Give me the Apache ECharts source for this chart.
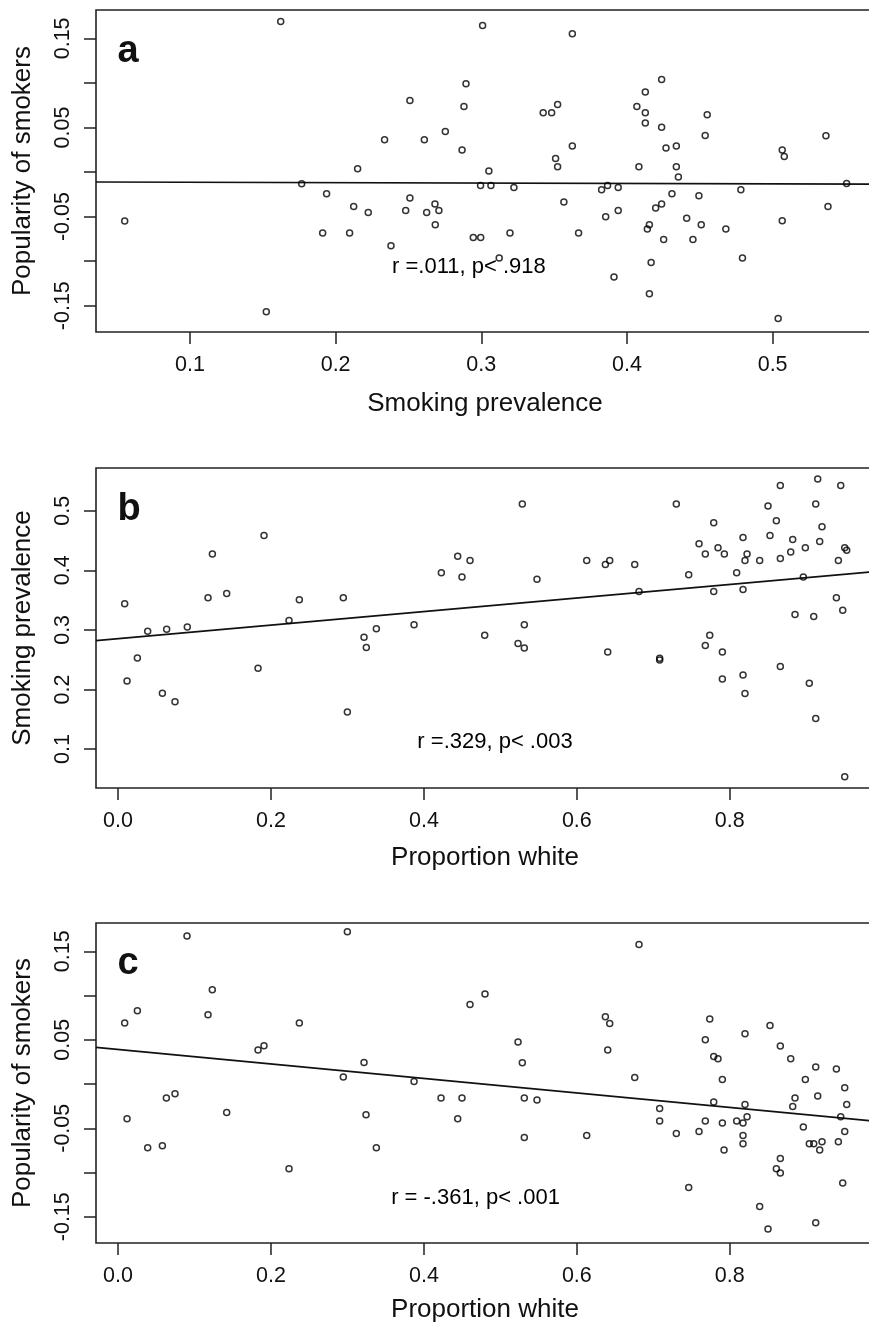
<!DOCTYPE html>
<html><head><meta charset="utf-8">
<script src="https://cdn.jsdelivr.net/npm/echarts@6/dist/echarts.min.js"></script>
<style>html,body{margin:0;padding:0;background:#fff;overflow:hidden}#c{width:869px;height:1332px}</style>
</head><body><div id="c"></div>
<script>
// ---------- data ----------
// Panel a: x = smoking prevalence, y = popularity of smokers
const panelA = [
[0.1623,0.169],[0.2895,0.0991],[0.2510,0.0803],[0.2881,0.0736],[0.2753,0.0456],[0.2336,0.0362],
[0.2609,0.0362],[0.2868,0.0247],[0.2151,0.0037],[0.1767,-0.0131],[0.1938,-0.0243],[0.2510,-0.0292],
[0.2124,-0.0386],[0.2224,-0.0453],[0.2481,-0.0431],[0.2625,-0.0453],[0.2682,-0.0359],[0.2709,-0.0431],
[0.2684,-0.0591],[0.0552,-0.0550],[0.1911,-0.0684],[0.2096,-0.0684],[0.2380,-0.0827],[0.2945,-0.0734],
[0.2996,-0.0734],[0.1524,-0.1567],
[0.3009,0.1645],[0.3625,0.1552],[0.4238,0.1039],[0.4126,0.0898],[0.3524,0.0759],[0.3425,0.0665],
[0.3483,0.0665],[0.4068,0.0736],[0.4126,0.0665],[0.4126,0.0549],[0.4551,0.0643],[0.4238,0.0501],
[0.4537,0.0411],[0.5366,0.0407],[0.3625,0.0292],[0.4268,0.0269],[0.4339,0.0292],[0.5066,0.0247],
[0.5080,0.0175],[0.3510,0.0153],[0.3524,0.0059],[0.4082,0.0059],[0.4339,0.0059],[0.4353,-0.0056],
[0.3052,0.0011],[0.2995,-0.0150],[0.3066,-0.0150],[0.3224,-0.0173],[0.3826,-0.0199],[0.3867,-0.0150],
[0.3940,-0.0173],[0.4782,-0.0199],[0.5508,-0.0128],[0.4309,-0.0243],[0.4494,-0.0266],[0.3567,-0.0337],
[0.4238,-0.0359],[0.4197,-0.0404],[0.3940,-0.0431],[0.3854,-0.0502],[0.4410,-0.0520],[0.5380,-0.0386],
[0.5066,-0.0546],[0.4154,-0.0591],[0.4140,-0.0640],[0.4510,-0.0591],[0.4679,-0.0640],[0.3197,-0.0684],
[0.3668,-0.0684],[0.4252,-0.0756],[0.4453,-0.0756],[0.3123,-0.0965],[0.4166,-0.1014],[0.4793,-0.0965],
[0.3911,-0.1178],[0.4154,-0.1365],[0.5038,-0.1643]
];
// Panel b: x = proportion white, y = smoking prevalence
const panelB = [
[0.1909,0.4585],[0.1234,0.4272],[0.0087,0.3437],[0.1177,0.3538],[0.1421,0.3611],[0.2371,0.3504],
[0.2946,0.3538],[0.2236,0.3156],[0.0388,0.2978],[0.0636,0.3012],[0.0906,0.3050],[0.0253,0.2529],
[0.0118,0.2143],[0.0580,0.1936],[0.0745,0.1795],[0.1831,0.2356],[0.2999,0.1622],[0.3217,0.2877],
[0.3247,0.2703],[0.3378,0.3017],[0.3871,0.3084],[0.4228,0.3958],[0.4442,0.4238],[0.4603,0.4165],
[0.4498,0.3886],
[0.5287,0.5113],[0.7301,0.5113],[0.8661,0.5425],[0.9150,0.5533],[0.9451,0.5425],[0.9124,0.5113],
[0.8500,0.5079],[0.8609,0.4832],[0.7790,0.4798],[0.9206,0.4731],[0.8173,0.4552],[0.8526,0.4585],
[0.8823,0.4518],[0.9176,0.4484],[0.7598,0.4445],[0.7846,0.4378],[0.7680,0.4272],[0.7929,0.4272],
[0.8226,0.4272],[0.8199,0.4165],[0.8391,0.4165],[0.8661,0.4199],[0.8797,0.4306],[0.8988,0.4378],
[0.9503,0.4378],[0.9529,0.4339],[0.9420,0.4165],[0.6129,0.4165],[0.6373,0.4098],[0.6430,0.4165],
[0.6757,0.4098],[0.5479,0.3852],[0.7463,0.3924],[0.8090,0.3958],[0.8962,0.3886],[0.6813,0.3644],
[0.7790,0.3644],[0.8173,0.3678],[0.9394,0.3538],[0.9477,0.3331],[0.8853,0.3258],[0.9098,0.3224],
[0.5313,0.3084],[0.4795,0.2911],[0.5231,0.2770],[0.5313,0.2697],[0.7738,0.2911],[0.7680,0.2736],
[0.7903,0.2630],[0.6404,0.2630],[0.7083,0.2524],[0.7083,0.2496],[0.8661,0.2383],[0.7903,0.2176],
[0.8173,0.2244],[0.8199,0.1930],[0.9040,0.2104],[0.9124,0.1510],[0.9503,0.0535]
];
// Panel c: x = proportion white, y = popularity of smokers
const panelC = [
[0.0902,0.1673],[0.2999,0.1722],[0.1233,0.1066],[0.0253,0.0829],[0.0087,0.0689],[0.1177,0.0783],
[0.2371,0.0689],[0.4603,0.0900],[0.1831,0.0384],[0.1909,0.0433],[0.3217,0.0244],[0.2946,0.0079],
[0.3871,0.0029],[0.0632,-0.0158],[0.0745,-0.0110],[0.4224,-0.0158],[0.4498,-0.0158],[0.0118,-0.0392],
[0.1421,-0.0321],[0.3243,-0.0347],[0.4442,-0.0392],[0.0388,-0.0720],[0.0580,-0.0697],[0.3378,-0.0720],
[0.2236,-0.0957],
[0.4799,0.1017],[0.6813,0.1578],[0.6373,0.0761],[0.6430,0.0685],[0.6404,0.0384],[0.5231,0.0475],
[0.5287,0.0241],[0.6757,0.0075],[0.5313,-0.0158],[0.5479,-0.0181],[0.5313,-0.0604],[0.6129,-0.0581],
[0.7083,-0.0276],[0.7083,-0.0419],[0.7301,-0.0558],[0.7463,-0.1169],[0.7738,0.0735],[0.7680,0.0501],
[0.7790,0.0312],[0.7846,0.0286],[0.7903,0.0052],[0.7790,-0.0203],[0.7680,-0.0419],[0.7598,-0.0536],
[0.7903,-0.0441],[0.7925,-0.0746],[0.8199,0.0569],[0.8199,-0.0231],[0.8226,-0.0370],[0.8090,-0.0419],
[0.8173,-0.0441],[0.8173,-0.0581],[0.8173,-0.0675],[0.8526,0.0662],[0.8661,0.0430],[0.8797,0.0286],
[0.9124,0.0192],[0.9394,0.0170],[0.8988,0.0052],[0.9503,-0.0042],[0.9150,-0.0136],[0.8853,-0.0158],
[0.8823,-0.0253],[0.9529,-0.0231],[0.9451,-0.0370],[0.8962,-0.0486],[0.9503,-0.0536],[0.9040,-0.0675],
[0.9098,-0.0675],[0.9206,-0.0652],[0.9176,-0.0746],[0.9420,-0.0652],[0.8661,-0.0841],[0.8609,-0.0957],
[0.8661,-0.1006],[0.9477,-0.1119],[0.8391,-0.1384],[0.8500,-0.1639],[0.9124,-0.1568]
];
// fitted regression lines (endpoints read at the plot edges)
const fitA = [[0.0355,-0.0112],[0.5696,-0.0136]];
const fitB = [[-0.0288,0.2820],[0.9886,0.3978]];
const fitC = [[-0.0288,0.0414],[0.9886,-0.0419]];
// annotations
const statA = {pos:[0.2915,-0.1063], text:'r =.011, p< .918'};
const statB = {pos:[0.493,0.1118], text:'r =.329, p< .003'};
const statC = {pos:[0.4675,-0.1289], text:'r = -.361, p< .001'};
const panelLetters = ['a','b','c'];
// axis ranges
const rangeXA = [0.0355, 0.5696], rangeYA = [-0.1795, 0.1818];
const rangeXB = [-0.0288, 0.9886], rangeYB = [0.0345, 0.5718];
const rangeXC = [-0.0288, 0.9886], rangeYC = [-0.1797, 0.1820];
// ticks and tick labels
const ticksPopularity = [-0.15,-0.1,-0.05,0,0.05,0.1,0.15];
const labelsPopularity = [-0.15,-0.05,0.05,0.15];
const ticksPrevalence = [0.1,0.2,0.3,0.4,0.5];
const ticksWhite = [0,0.2,0.4,0.6,0.8];
const axisTitles = {prev:'Smoking prevalence', pop:'Popularity of smokers', white:'Proportion white'};

// ---------- chart ----------
const FONT = '"Liberation Sans", Arial, Helvetica, sans-serif';
const INK = '#111';
const chart = echarts.init(document.getElementById('c'), null, {renderer:'canvas'});

const gridTops = [10, 468, 923], gridHeights = [322, 320, 320];
const grids = gridTops.map((t,i)=>({left:96, top:t, width:778, height:gridHeights[i], show:true,
  borderColor:'#222', borderWidth:1.6, backgroundColor:'transparent', containLabel:false, outerBoundsMode:'none'}));

function xAx(i, range, ticks, dec, name, gap){
  return {type:'value', gridIndex:i, min:range[0], max:range[1], position:'bottom',
    axisLine:{show:false, onZero:false}, splitLine:{show:false},
    axisTick:{show:true, inside:false, length:12, lineStyle:{color:'#222', width:1.5}, customValues:ticks},
    axisLabel:{show:true, customValues:ticks, margin:22, fontSize:21.5, color:INK, fontFamily:FONT,
      formatter:v=>Number(v).toFixed(dec)},
    name:name, nameLocation:'middle', nameGap:gap, nameTextStyle:{fontSize:26, color:INK, fontFamily:FONT}};
}
function yAx(i, range, ticks, labels, dec, name){
  return {type:'value', gridIndex:i, min:range[0], max:range[1], position:'left',
    axisLine:{show:false, onZero:false}, splitLine:{show:false},
    axisTick:{show:true, inside:false, length:12, lineStyle:{color:'#222', width:1.5}, customValues:ticks},
    axisLabel:{show:true, customValues:labels, rotate:90, margin:22, fontSize:21.5, color:INK, fontFamily:FONT,
      formatter:v=>Number(v).toFixed(dec)},
    name:name, nameLocation:'middle', nameGap:60, nameRotate:90, nameTextStyle:{fontSize:26, color:INK, fontFamily:FONT}};
}

function pts(i, data){
  return {type:'scatter', xAxisIndex:i, yAxisIndex:i, data:data, symbol:'circle', symbolSize:6, silent:true,
    itemStyle:{color:'rgba(0,0,0,0)', borderColor:'#000', borderWidth:1.5}, z:3};
}
function fit(i, data){
  return {type:'line', xAxisIndex:i, yAxisIndex:i, data:data, symbol:'none', silent:true,
    lineStyle:{color:'#111', width:1.7}, z:2};
}
function stat(i, s){
  return {type:'scatter', xAxisIndex:i, yAxisIndex:i, data:[s.pos], symbolSize:1, silent:true,
    itemStyle:{color:'#fff', borderWidth:0},
    label:{show:true, position:'inside', formatter:s.text, fontSize:22, color:'#000', fontFamily:FONT,
      textBorderWidth:0, textBorderColor:'transparent', opacity:1}, z:4};
}

const letterY = [52, 510, 964];
const option = {
  animation:false,
  backgroundColor:'#fff',
  grid:grids,
  xAxis:[
    xAx(0, rangeXA, ticksPrevalence, 1, axisTitles.prev, 59),
    xAx(1, rangeXB, ticksWhite, 1, axisTitles.white, 57),
    xAx(2, rangeXC, ticksWhite, 1, axisTitles.white, 54)
  ],
  yAxis:[
    yAx(0, rangeYA, ticksPopularity, labelsPopularity, 2, axisTitles.pop),
    yAx(1, rangeYB, ticksPrevalence, ticksPrevalence, 1, axisTitles.prev),
    yAx(2, rangeYC, ticksPopularity, labelsPopularity, 2, axisTitles.pop)
  ],
  series:[
    fit(0, fitA), pts(0, panelA), stat(0, statA),
    fit(1, fitB), pts(1, panelB), stat(1, statB),
    fit(2, fitC), pts(2, panelC), stat(2, statC)
  ],
  graphic: panelLetters.map((l,i)=>({type:'text', x:117.5, y:letterY[i], silent:true,
    style:{text:l, fontSize:38, fontWeight:'bold', fontFamily:FONT, fill:'#111', align:'left', verticalAlign:'middle'}}))
};
chart.setOption(option);
</script></body></html>
